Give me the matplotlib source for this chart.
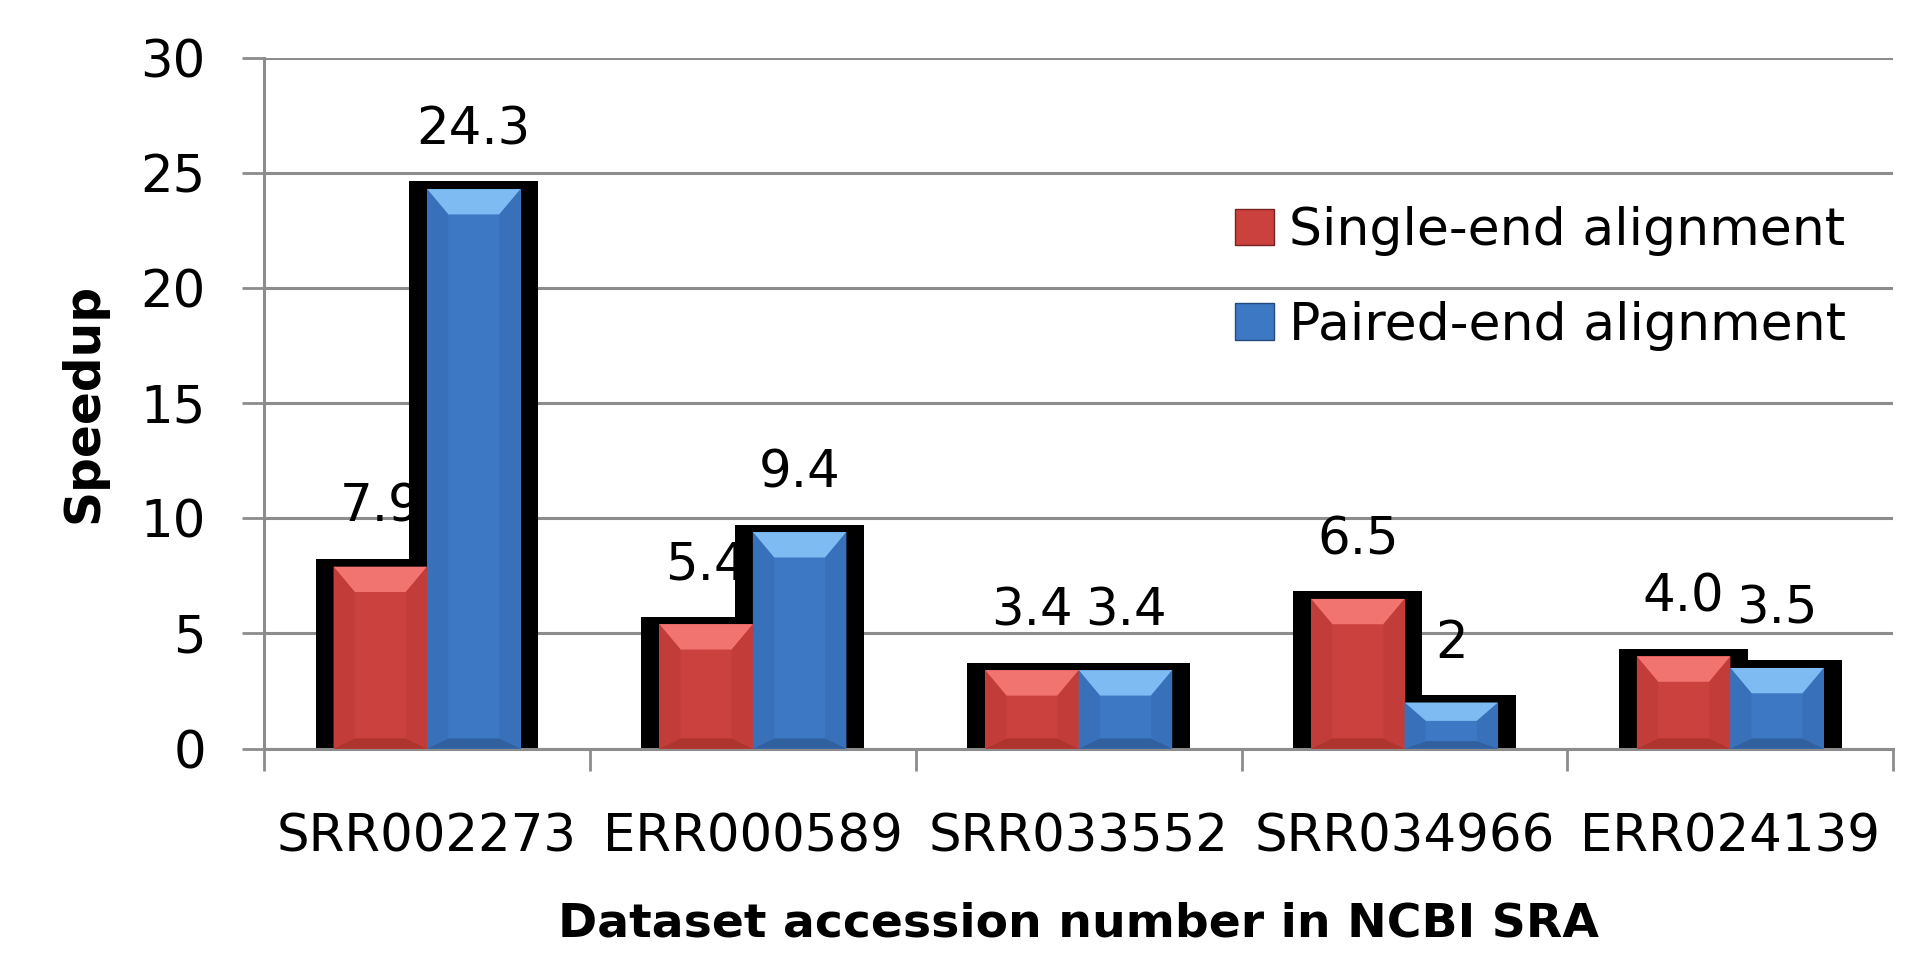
import numpy as np
import matplotlib.pyplot as plt
from matplotlib.patches import Polygon, Patch

# datos
datasets = ['SRR002273', 'ERR000589', 'SRR033552', 'SRR034966', 'ERR024139']
single_end = [7.9, 5.4, 3.4, 6.5, 4.0]
paired_end = [24.3, 9.4, 3.4, 2.0, 3.5]
single_lbl = ['7.9', '5.4', '3.4', '6.5', '4.0']
paired_lbl = ['24.3', '9.4', '3.4', '2', '3.5']
yticks = [0, 5, 10, 15, 20, 25, 30]

plt.rcParams['font.family'] = ['DejaVu Sans']
FS = 37

red = {'main': '#CB413D', 'top': '#F27471', 'side': '#C23D39', 'bot': '#AE3430'}
blue = {'main': '#3D78C4', 'top': '#7DBBF2', 'side': '#3970BA', 'bot': '#30609E'}

fig = plt.figure(figsize=(19.28, 9.56), dpi=100)
ax = fig.add_axes([0.137, 0.217, 0.845, 0.7225])

x = np.arange(len(datasets))
w = 0.287
padx = 0.055
pady = 0.45


def bevel(ax, x0, h, col):
    # simula el efecto biselado de Excel
    bx = 0.065
    by = min(1.1, h / 2.5)
    x1 = x0 + w
    ax.add_patch(Polygon([(x0, h), (x1, h), (x1 - bx, h - by), (x0 + bx, h - by)],
                         closed=True, fc=col['top'], ec='none', zorder=4))
    ax.add_patch(Polygon([(x0, 0), (x1, 0), (x1 - bx, by * 0.4), (x0 + bx, by * 0.4)],
                         closed=True, fc=col['bot'], ec='none', zorder=4))
    ax.add_patch(Polygon([(x0, 0), (x0 + bx, by * 0.4), (x0 + bx, h - by), (x0, h)],
                         closed=True, fc=col['side'], ec='none', zorder=4))
    ax.add_patch(Polygon([(x1, 0), (x1 - bx, by * 0.4), (x1 - bx, h - by), (x1, h)],
                         closed=True, fc=col['side'], ec='none', zorder=4))


for i in range(len(datasets)):
    # sombra negra detras de las barras
    ax.bar(x[i] - w / 2, single_end[i] + pady, width=w + 2 * padx, bottom=-0.12,
           color='black', zorder=2)
    ax.bar(x[i] + w / 2, paired_end[i] + pady, width=w + 2 * padx, bottom=-0.12,
           color='black', zorder=2)

ax.bar(x - w, single_end, width=w, align='edge', color=red['main'], zorder=3)
ax.bar(x, paired_end, width=w, align='edge', color=blue['main'], zorder=3)
for i in range(len(datasets)):
    bevel(ax, x[i] - w, single_end[i], red)
    bevel(ax, x[i], paired_end[i], blue)
    ax.text(x[i] - w / 2, single_end[i] + 2.55, single_lbl[i], ha='center', va='center',
            fontsize=FS, zorder=1)
    ax.text(x[i] + w / 2, paired_end[i] + 2.55, paired_lbl[i], ha='center', va='center',
            fontsize=FS, zorder=1)

ax.set_xlim(-0.5, len(datasets) - 0.5)
ax.set_ylim(0, 30)
ax.set_yticks(yticks)
ax.set_yticklabels([str(t) for t in yticks], fontsize=FS)
ax.set_xticks(x)
ax.set_xticklabels(datasets, fontsize=FS)
ax.set_xticks(np.arange(len(datasets) + 1) - 0.5, minor=True)
ax.tick_params(axis='x', which='major', length=0, pad=46)
ax.tick_params(axis='x', which='minor', length=16, width=2, color='#8C8C8C')
ax.tick_params(axis='y', length=16, width=2, color='#8C8C8C', pad=26)

ax.yaxis.grid(True, color='#8C8C8C', linewidth=2.2, zorder=0)
ax.set_axisbelow(True)
for s in ['top', 'right']:
    ax.spines[s].set_visible(False)
for s in ['left', 'bottom']:
    ax.spines[s].set_color('#8C8C8C')
    ax.spines[s].set_linewidth(2.2)

ax.set_ylabel('Speedup', fontsize=35, fontweight='bold')
ax.set_xlabel('Dataset accession number in NCBI SRA', fontsize=34, fontweight='bold')
ax.yaxis.set_label_coords(-0.096, 0.5)
ax.xaxis.set_label_coords(0.5, -0.222)

handles = [Patch(facecolor=red['main'], edgecolor='#7a2220', label='Single-end alignment'),
           Patch(facecolor=blue['main'], edgecolor='#234a7a', label='Paired-end alignment')]
ax.legend(handles=handles, loc='upper left', bbox_to_anchor=(0.567, 0.853), frameon=False,
          fontsize=37.5, handlelength=0.75, handleheight=0.7, handletextpad=0.3,
          labelspacing=0.85)

plt.savefig('out.png', dpi=100)
